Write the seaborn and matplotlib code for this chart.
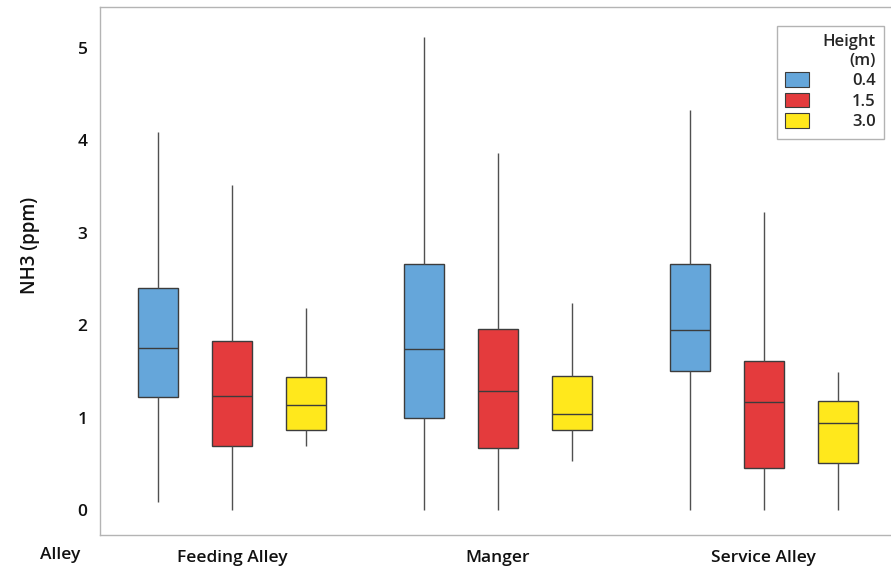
import matplotlib
matplotlib.use("Agg")
import matplotlib.pyplot as plt
import seaborn as sns
import pandas as pd
from matplotlib.patches import Patch

# Data: five-number summaries (min, Q1, median, Q3, max)
alleys = ["Feeding Alley", "Manger", "Service Alley"]
heights = ["0.4", "1.5", "3.0"]

feeding_04 = [0.09, 1.22, 1.75, 2.40, 4.09]
feeding_15 = [0.00, 0.69, 1.23, 1.83, 3.51]
feeding_30 = [0.69, 0.87, 1.14, 1.44, 2.19]

manger_04 = [0.00, 1.00, 1.74, 2.66, 5.12]
manger_15 = [0.00, 0.67, 1.29, 1.96, 3.86]
manger_30 = [0.53, 0.87, 1.04, 1.45, 2.24]

service_04 = [0.00, 1.50, 1.95, 2.66, 4.33]
service_15 = [0.00, 0.45, 1.17, 1.61, 3.22]
service_30 = [0.00, 0.51, 0.94, 1.18, 1.49]

colors = ["#65A6DA", "#E43B3D", "#FFE81C"]

series = {
    ("Feeding Alley", "0.4"): feeding_04,
    ("Feeding Alley", "1.5"): feeding_15,
    ("Feeding Alley", "3.0"): feeding_30,
    ("Manger", "0.4"): manger_04,
    ("Manger", "1.5"): manger_15,
    ("Manger", "3.0"): manger_30,
    ("Service Alley", "0.4"): service_04,
    ("Service Alley", "1.5"): service_15,
    ("Service Alley", "3.0"): service_30,
}

rows = []
for (a, h), vals in series.items():
    for v in vals:
        rows.append({"Alley": a, "Height": h, "NH3": v})
df = pd.DataFrame(rows)

sns.set_theme(style="white")
plt.rcParams["font.family"] = ["Open Sans", "DejaVu Sans"]

fig = plt.figure(figsize=(8.91, 5.71), dpi=100)
W, H = 891, 571
ax = fig.add_axes([100 / W, 1 - 535 / H, (890 - 100) / W, (535 - 7) / H])

sns.boxplot(
    data=df, x="Alley", y="NH3", hue="Height",
    order=alleys, hue_order=heights, palette=colors,
    whis=(0, 100), width=0.835, gap=0.46,
    linecolor="#3c3c3c", linewidth=1.0, showcaps=False,
    saturation=1, legend=False, ax=ax,
    whiskerprops={"color": "#505050", "linewidth": 1.0},
    medianprops={"color": "#3c3c3c", "linewidth": 1.0},
)

ax.set_xlim(-0.496, 2.474)
ax.set_ylim(-0.27, 5.44)
ax.set_yticks([0, 1, 2, 3, 4, 5])
ax.set_xlabel("")
ax.set_ylabel("NH3 (ppm)", fontsize=13.5, fontweight="semibold", color="#111111")
ax.yaxis.set_label_coords(-60 / 790, (535 - 245) / 528)

for s in ax.spines.values():
    s.set_color("#b4b4b4")
    s.set_linewidth(1.0)
ax.spines["right"].set_visible(False)

ax.tick_params(axis="both", which="both", direction="out", length=4, width=0.8,
               color="#b4b4b4", labelsize=12.5, labelcolor="#111111")
ax.tick_params(axis="x", pad=7)
ax.tick_params(axis="y", pad=5)
for lab in ax.get_xticklabels() + ax.get_yticklabels():
    lab.set_fontweight("semibold")

fig.text(60 / W, 1 - 555 / H, "Alley", ha="center", va="center",
         fontsize=12.5, fontweight="semibold", color="#111111")

handles = [Patch(facecolor=c, edgecolor="#3c3c3c", linewidth=0.8) for c in colors]
leg = ax.legend(handles, heights, title="Height\n(m)", loc="upper right",
                bbox_to_anchor=(884 / W, 1 - 26 / H), bbox_transform=fig.transFigure,
                borderaxespad=0,
                frameon=True, fancybox=False, edgecolor="#a0a0a0",
                fontsize=12, title_fontsize=12, handlelength=1.4, handleheight=1.0,
                handletextpad=2.6, labelspacing=0.2, borderpad=0.5,
                alignment="right")
leg.get_frame().set_linewidth(1.0)
leg.get_title().set_fontweight("semibold")
leg.get_title().set_multialignment("right")
for t in leg.get_texts():
    t.set_fontweight("semibold")

fig.savefig("out.png", dpi=100)
